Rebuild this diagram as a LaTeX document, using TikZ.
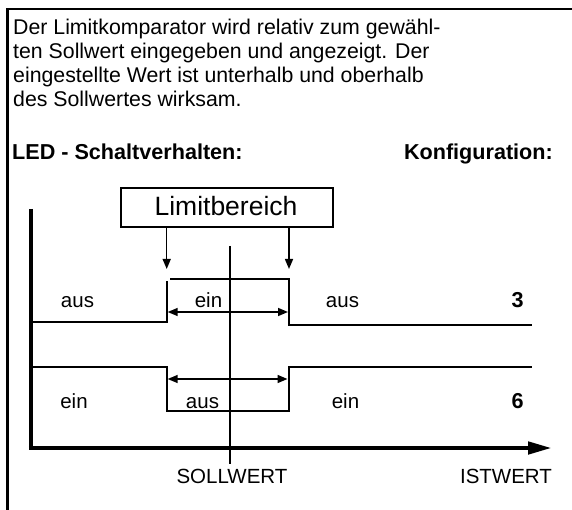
\documentclass[tikz,border=0pt]{standalone}
\usepackage{fontspec}
\setmainfont{Liberation Sans}
\usetikzlibrary{arrows.meta}

\tikzset{
  txt/.style={inner sep=0pt, anchor=base west, font=\fontsize{21.3}{24}\selectfont},
  lbl/.style={inner sep=0pt, anchor=base, font=\fontsize{20.5}{24}\selectfont},
  bold/.style={font=\fontsize{21.6}{24}\selectfont\bfseries},
  frame/.style={line width=2.5pt},
  signal/.style={line width=2pt},
  axis/.style={line width=4.5pt},
  span/.style={line width=1.5pt, {Triangle[length=10pt,width=8pt]}-{Triangle[length=10pt,width=8pt]}},
  pointer/.style={line width=1.5pt, -{Triangle[length=10pt,width=8pt]}},
}

\begin{document}
\begin{tikzpicture}[x=1pt,y=-1pt]
\useasboundingbox (0,0) rectangle (572,510);

% open frame: top and left edge only
\draw[frame] (7.5,510) -- (7.5,9) -- (572,9);

% description
\node[txt] (l1) at (13,35)  {Der Limitkomparator wird relativ zum gewähl-};
\node[txt] (l2) at (13,59)  {ten Sollwert eingegeben und angezeigt. Der};
\node[txt] (l3) at (13,83)  {eingestellte Wert ist unterhalb und oberhalb};
\node[txt] (l4) at (13,107) {des Sollwertes wirksam.};

\node[txt, bold] (led) at (12,160) {LED - Schaltverhalten:};
\node[txt, bold, anchor=base east] (konf) at (553,160) {Konfiguration:};

% limit range box
\node[draw, line width=2pt, inner sep=0pt, minimum width=212pt, minimum height=39pt] (limit) at (227,207.5) {};
\node[inner sep=0pt, anchor=base, font=\fontsize{26.5}{30}\selectfont] (limtxt) at (226,216) {Limitbereich};

\coordinate (pl) at (166.7,269);
\coordinate (pr) at (289,269);
\draw[pointer] (limit.south -| pl) -- (pl);
\draw[pointer] (limit.south -| pr) -- (pr);

% axes
\coordinate (yax) at (31,209);
\coordinate (org) at (31,448);
\coordinate (xend) at (552,448);
\draw[axis] (yax) -- (31,450.2);
\draw[axis, -{Triangle[length=24pt,width=12pt]}] (28.75,448) -- (xend);

% setpoint marker
\coordinate (sTop) at (230,246);
\coordinate (sBot) at (230,464);
\draw[signal] (sTop) -- (sBot);

% configuration 3: on inside the limit range
\coordinate (a0) at (33,322);
\coordinate (a1) at (166.7,322);
\coordinate (a2) at (166.7,281);
\coordinate (a3) at (170,279);
\coordinate (a4) at (290,279);
\coordinate (a5) at (289,279);
\coordinate (a6) at (289,325);
\coordinate (a7) at (532,325);
\draw[signal] (a0) -- (a1) -- (a2);
\draw[signal] (a3) -- (a4);
\draw[signal] (a5) -- (a6) -- (a7);
\coordinate (d1l) at (167.7,312);
\coordinate (d1r) at (288,312);
\draw[span] (d1l) -- (d1r);

% configuration 6: off inside the limit range
\coordinate (b0) at (33,366.5);
\coordinate (b1) at (166.7,366.5);
\coordinate (b2) at (166.7,411);
\coordinate (b3) at (288.5,411);
\coordinate (b4) at (288.5,366.5);
\coordinate (b5) at (532,366.5);
\draw[signal, line join=miter] (b0) -- (b1) -- (b2) -- (b3) -- (b4) -- (b5);
\coordinate (d2l) at (167.7,379);
\coordinate (d2r) at (287.5,379);
\draw[span] (d2l) -- (d2r);

% row labels
\node[lbl] (r1a) at (77.5,307) {aus};
\node[lbl] (r1b) at (208.5,307) {ein};
\node[lbl] (r1c) at (342.5,307) {aus};
\node[lbl, bold] (r1k) at (517.5,307) {3};

\node[lbl] (r2a) at (74,408) {ein};
\node[lbl] (r2b) at (202.5,408) {aus};
\node[lbl] (r2c) at (345.5,408) {ein};
\node[lbl, bold] (r2k) at (517.5,408) {6};

% axis labels
\node[lbl] (soll) at (232,483) {SOLLWERT};
\node[lbl] (ist) at (506,483) {ISTWERT};
\end{tikzpicture}
\end{document}
